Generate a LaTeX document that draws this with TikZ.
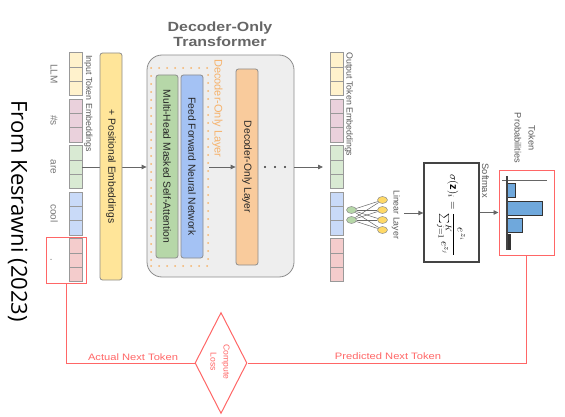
\documentclass[tikz,border=0pt]{standalone}
\usepackage{fontspec}
\setmainfont{Liberation Sans}
\newfontfamily\kesfont{Open Sans}
\usetikzlibrary{arrows.meta,shapes.geometric}
\definecolor{tokyel}{HTML}{FFF2CC}
\definecolor{tokpink}{HTML}{EAD1DC}
\definecolor{tokgreen}{HTML}{D9EAD3}
\definecolor{tokblue}{HTML}{C9DAF8}
\definecolor{tokred}{HTML}{F4CCCC}
\definecolor{cellgray}{HTML}{999999}
\definecolor{boxgray}{HTML}{8C8C8C}
\definecolor{posfill}{HTML}{FFE599}
\definecolor{trfill}{HTML}{EEEEEE}
\definecolor{greenbox}{HTML}{B6D7A8}
\definecolor{bluebox}{HTML}{A4C2F4}
\definecolor{orangebox}{HTML}{F9CB9C}
\definecolor{dotorange}{HTML}{F6B26B}
\definecolor{titlegray}{HTML}{666666}
\definecolor{lblgray}{HTML}{595959}
\definecolor{tokgray}{HTML}{777777}
\definecolor{txtdark}{HTML}{262626}
\definecolor{arrgray}{HTML}{666666}
\definecolor{lossred}{HTML}{FF6666}
\definecolor{barblue}{HTML}{6FA8DC}
\definecolor{bardark}{HTML}{333333}
\definecolor{axgray}{HTML}{666666}
\definecolor{smaxgray}{HTML}{444444}
\definecolor{nodegreen}{HTML}{B6D7A8}
\definecolor{nodeyel}{HTML}{FFD966}
\begin{document}
\begin{tikzpicture}[x=1pt,y=-1pt,
  cellbox/.style={draw=cellgray, line width=0.6pt, minimum width=13pt, minimum height=14.33pt, inner sep=0pt, outer sep=0pt},
  vbox/.style={draw=boxgray, line width=0.8pt, rounded corners=2.5pt, minimum height=22pt, inner sep=0pt, rotate=-90, font=\fontsize{10.3}{12}\selectfont, text=txtdark},
  rot/.style={rotate=-90},
  smalllbl/.style={rotate=-90, inner sep=0pt, font=\fontsize{8.8}{10}\selectfont, text=lblgray},
  toklbl/.style={rotate=-90, inner sep=0pt, anchor=base, font=\fontsize{10}{12}\selectfont, text=tokgray},
  arr/.style={draw=arrgray, line width=0.8pt, -{Triangle[length=5pt,width=4.5pt]}},
  lossline/.style={draw=lossred, line width=1pt},
  losslbl/.style={text=lossred, font=\fontsize{9.3}{11}\selectfont, xscale=1.2, inner sep=0pt},
  netline/.style={draw=arrgray, line width=0.5pt},
  netnode/.style={ellipse, draw=boxgray, line width=0.5pt, minimum width=10pt, minimum height=7pt, inner sep=0pt},
  bar/.style={fill=barblue, draw=bardark, line width=0.9pt}
]
\useasboundingbox (0,0) rectangle (565,417);

% source note
\node[rot, anchor=base west, inner sep=0pt, font=\kesfont\fontsize{22}{26}\selectfont] (src) at (11.5,100) {From Kesrawni (2023)};

% input token embeddings
\foreach \c [count=\k from 0] in {tokyel,tokpink,tokgreen,tokblue,tokred} {
  \foreach \j in {0,1,2} {
    \node[cellbox, fill=\c] (in\k\j) at (75.5, 52.5+\k*46.5+7.17+\j*14.33) {};
  }
}
\node[toklbl] (t0) at (50.5,74) {LLM};
\node[toklbl] (t1) at (50.5,120.5) {\#s};
\node[toklbl] (t2) at (50.5,167) {are};
\node[toklbl] (t3) at (50.5,213.5) {cool};
\node[toklbl] (t4) at (50.5,260) {.};
\node[smalllbl, anchor=base west] (inlbl) at (86,55) {Input Token Embeddings};
\node[draw=lossred, line width=1pt, minimum width=40pt, minimum height=46pt, inner sep=0pt] (act) at (66,260) {};

% transformer
\node[draw=boxgray, fill=trfill, rounded corners=15pt, minimum width=147pt, minimum height=222pt, line width=0.8pt, inner sep=0pt] (tr) at (220.5,166) {};
\node[font=\bfseries\fontsize{13.3}{15}\selectfont, text=titlegray, align=center, xscale=1.2] (title) at (220,34.5) {Decoder-Only\\Transformer};

\draw[arr] (in21.east) -- (in21.east -| tr.west);

\node[vbox, fill=posfill, minimum width=227pt] (pos) at (111,166.5) {+ Positional Embeddings};

\node[draw=dotorange, dash pattern=on 0pt off 8pt, line cap=round, line width=2pt, minimum width=57pt, minimum height=198pt, inner sep=0pt] (layer) at (179.5,167) {};
\node[rot, anchor=base west, inner sep=0pt, text=dotorange, font=\fontsize{11}{13}\selectfont] (layerlbl) at (214.5,59) {Decoder-Only Layer};
\node[vbox, fill=greenbox, minimum width=183pt] (mha) at (167,166.5) {Multi-Head Masked Self-Attention};
\node[vbox, fill=bluebox, minimum width=183pt] (ffn) at (192,166.5) {Feed Forward Neural Network};
\node[vbox, fill=orangebox, minimum width=196pt] (dec) at (247,167) {Decoder-Only Layer};
\draw[arr] (layer.east |- dec.center) -- (dec.south);
\foreach \xx in {265,275,285} \fill[bardark] (\xx,167) circle (1.2pt);

% output token embeddings
\foreach \c [count=\k from 0] in {tokyel,tokpink,tokgreen,tokblue,tokred} {
  \foreach \j in {0,1,2} {
    \node[cellbox, fill=\c] (out\k\j) at (336.5, 52.5+\k*46.5+7.17+\j*14.33) {};
  }
}
\node[smalllbl, anchor=base west] (outlbl) at (346.5,52.5) {Output Token Embeddings};
\draw[arr, shorten >=7pt] (tr.east |- out21.west) -- (out21.west);

% linear layer
\node[netnode, fill=nodegreen] (g1) at (351.5,210) {};
\node[netnode, fill=nodegreen] (g2) at (351.5,220) {};
\node[netnode, fill=nodeyel] (y1) at (382.5,200) {};
\node[netnode, fill=nodeyel] (y2) at (382.5,210) {};
\node[netnode, fill=nodeyel] (y3) at (382.5,220) {};
\node[netnode, fill=nodeyel] (y4) at (382.5,230) {};
\foreach \a in {1,2} \foreach \b in {1,2,3,4} \draw[netline] (g\a) -- (y\b);
\node[smalllbl, anchor=base west] (linlbl) at (393.5,190) {Linear Layer};

% softmax
\node[draw=smaxgray, line width=1.3pt, fill=white, minimum width=55pt, minimum height=99pt, inner sep=0pt] (smax) at (451.5,212.5) {};
\node[rot, inner sep=0pt] (fml) at (451,215) {\fontsize{11}{13}\selectfont$\displaystyle \sigma(\mathbf{z})_i=\frac{e^{z_i}}{\sum_{j=1}^{K}e^{z_j}}$};
\coordinate (linout) at (404,213);
\draw[arr] (linout) -- (linout -| smax.west);
\node[smalllbl, anchor=base west, font=\fontsize{9.3}{11}\selectfont] (smlbl) at (482,163.5) {Softmax};

% token probabilities
\node[draw=lossred, line width=1pt, minimum width=55pt, minimum height=84pt, inner sep=0pt] (probs) at (526.5,213) {};
\draw[arr] (smax.east) -- (smax.east -| probs.west);
\draw[draw=axgray, line width=1pt] (502,180) -- (547,180);
\draw[bar] (507,183) rectangle (515,197);
\draw[bar] (507,201) rectangle (542,215);
\draw[bar] (507,218) rectangle (522,232);
\fill[bardark] (506,234) rectangle (511,250);
\draw[draw=smaxgray, line width=1.6pt] (507,176) -- (507,250);
\node[rot, align=center, font=\fontsize{9.2}{14}\selectfont, text=lblgray, inner sep=0pt] (problbl) at (525,138) {Token\\Probabilities};

% loss
\node[diamond, draw=lossred, line width=1pt, minimum width=52pt, minimum height=101pt, inner sep=0pt] (loss) at (221,363) {};
\node[rot, align=center, text=lossred, font=\fontsize{8.6}{13}\selectfont, inner sep=0pt] (losstxt) at (220,362) {Compute\\Loss};
\draw[lossline] (probs.south) |- (loss.east);
\draw[lossline] (act.south) |- (loss.west);
\node[losslbl, anchor=base] (actlbl) at (133,360.5) {Actual Next Token};
\node[losslbl, anchor=base] (predlbl) at (388,359.5) {Predicted Next Token};
\end{tikzpicture}
\end{document}
